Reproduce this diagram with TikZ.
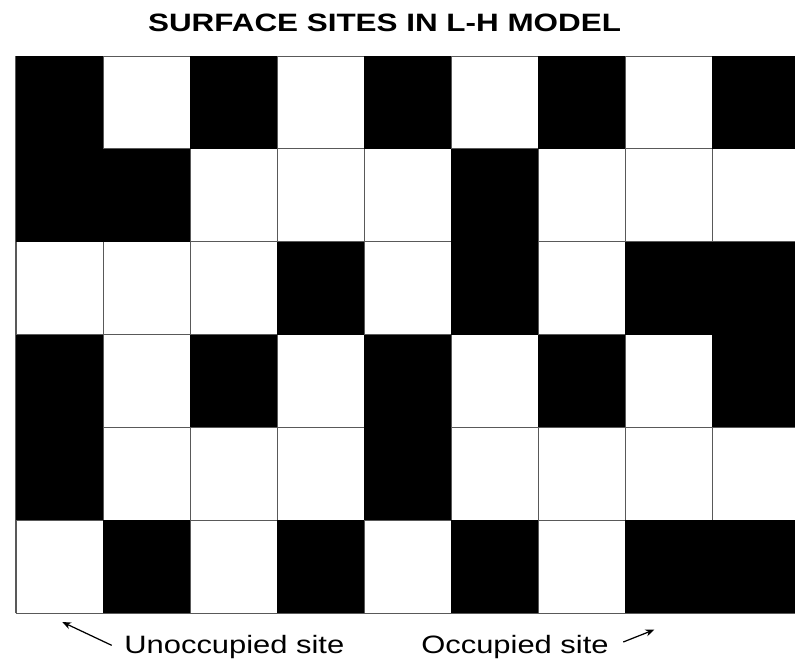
\documentclass[tikz,border=0pt]{standalone}
\usepackage{fontspec}
\setmainfont{Liberation Sans}
\usetikzlibrary{arrows.meta}

\begin{document}
\begin{tikzpicture}[
    x=1.7408cm, y=1.8567cm,
    site/.style={fill=black},
    gridline/.style={line width=0.6pt,black!65,xstep=1.7408cm,ystep=1.8567cm},
    pointer/.style={line width=0.7pt,-{Stealth[length=5pt,width=4pt]}},
    caption/.style={font=\fontsize{14.3}{17}\selectfont,inner sep=0pt},
    heading/.style={font=\fontsize{14.3}{17}\selectfont\bfseries,inner sep=0pt}
]

% Page frame
\useasboundingbox (-0.1838,-0.5494) rectangle (8.950,6.6035);
\clip (-0.1838,-0.5494) rectangle (8.950,6.6035);

% Lattice of sites
\draw[gridline] (0,0) grid (9,6);

% Occupied sites (column/row, row 0 at the bottom)
\foreach \c/\r in {0/5,2/5,4/5,6/5,8/5,
                   0/4,1/4,5/4,
                   3/3,5/3,7/3,8/3,
                   0/2,2/2,4/2,6/2,8/2,
                   0/1,4/1,
                   1/0,3/0,5/0,7/0,8/0}
    \fill[site] (\c,\r) rectangle ++(1,1);

% Title
\node[heading,anchor=base] (title) at (4.234,6.262)
    {\scalebox{1.25}[1]{SURFACE SITES IN L-H MODEL}};

% Legend
\node[caption,anchor=base west] (free) at (1.241,-0.431)
    {\scalebox{1.23}[1]{Unoccupied site}};
\node[caption,anchor=base west] (taken) at (4.653,-0.431)
    {\scalebox{1.23}[1]{Occupied site}};

\coordinate (freetail) at (1.0995,-0.348);
\coordinate (freetip) at (0.532,-0.097);
\coordinate (takentail) at (6.977,-0.312);
\coordinate (takentip) at (7.333,-0.180);

\draw[pointer] (freetail) -- (freetip);
\draw[pointer] (takentail) -- (takentip);

\end{tikzpicture}
\end{document}
